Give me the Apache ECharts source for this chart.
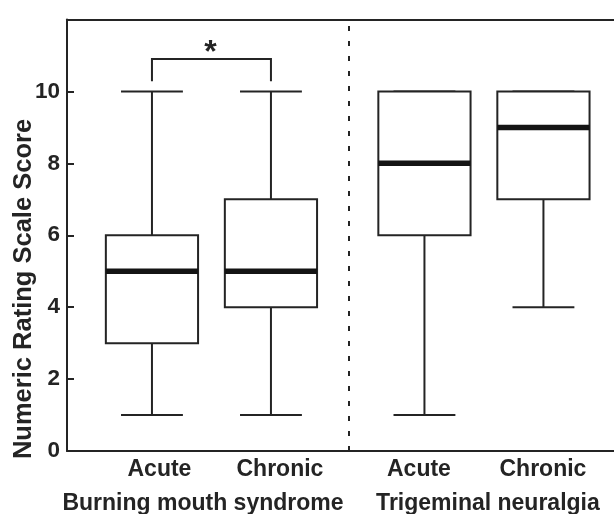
<!DOCTYPE html>
<html>
<head>
<meta charset="utf-8">
<script src="https://cdn.jsdelivr.net/npm/echarts@6/dist/echarts.min.js"></script>
<style>html,body{margin:0;padding:0;background:#fff}#c{width:614px;height:514px}</style>
</head>
<body>
<div id="c"></div>
<script>
// ---- data ----
const categories = ['Acute', 'Chronic', 'Acute', 'Chronic'];
const groups = ['Burning mouth syndrome', 'Trigeminal neuralgia'];
const groupOf = [0, 0, 1, 1];
const whiskerMin = [1, 1, 1, 4];
const q1 = [3, 4, 6, 7];
const median = [5, 5, 8, 9];
const q3 = [6, 7, 10, 10];
const whiskerMax = [10, 10, 10, 10];
const sigPair = [0, 1];
const sigMark = '*';
const yTicks = [0, 2, 4, 6, 8, 10];

// ---- layout / style ----
const GROUP_STEP = 2.29;       // x distance between groups (in item units)
const BOX_W = 0.775, CAP_W = 0.52;
const INK = '#242424';
const FONT = '"Liberation Sans", Arial, sans-serif';
const catLabelShift = [7.5, 9, -5.5, -0.5];
const groupLabelShift = [-8.5, 4];
const SIG_LOW = 0.28, SIG_HIGH = 0.9;

const xPos = categories.map((c, i) => groupOf[i] * GROUP_STEP + (i - groupOf.indexOf(groupOf[i])));
const sepX = (xPos[1] + xPos[2]) / 2;

const boxData = categories.map((c, i) => [xPos[i], whiskerMin[i], q1[i], median[i], q3[i], whiskerMax[i]]);

function renderBox(params, api) {
  const x = api.value(0);
  const lo = api.coord([x, api.value(1)]);
  const b1 = api.coord([x, api.value(2)]);
  const md = api.coord([x, api.value(3)]);
  const b3 = api.coord([x, api.value(4)]);
  const hi = api.coord([x, api.value(5)]);
  const bw = api.size([BOX_W, 0])[0];
  const cw = api.size([CAP_W, 0])[0];
  const cx = lo[0];
  const ls = {stroke: INK, lineWidth: 2};
  return {
    type: 'group',
    children: [
      {type: 'line', shape: {x1: cx, y1: lo[1], x2: cx, y2: b1[1]}, style: ls},
      {type: 'line', shape: {x1: cx, y1: b3[1], x2: cx, y2: hi[1]}, style: ls},
      {type: 'line', shape: {x1: cx - cw / 2, y1: lo[1], x2: cx + cw / 2, y2: lo[1]}, style: ls},
      {type: 'line', shape: {x1: cx - cw / 2, y1: hi[1], x2: cx + cw / 2, y2: hi[1]}, style: ls},
      {type: 'rect', shape: {x: cx - bw / 2, y: b3[1], width: bw, height: b1[1] - b3[1]},
        style: {fill: '#fff', stroke: INK, lineWidth: 2}},
      {type: 'line', shape: {x1: cx - bw / 2, y1: md[1], x2: cx + bw / 2, y2: md[1]},
        style: {stroke: '#141414', lineWidth: 5.5}}
    ]
  };
}

function renderSig(params, api) {
  const a = sigPair[0], b = sigPair[1];
  const top = Math.max(whiskerMax[a], whiskerMax[b]);
  const pA0 = api.coord([xPos[a], top + SIG_LOW]);
  const pA1 = api.coord([xPos[a], top + SIG_HIGH]);
  const pB1 = api.coord([xPos[b], top + SIG_HIGH]);
  const pB0 = api.coord([xPos[b], top + SIG_LOW]);
  return {
    type: 'group',
    children: [
      {type: 'polyline', shape: {points: [pA0, pA1, pB1, pB0]}, style: {stroke: INK, lineWidth: 2, fill: null}},
      {type: 'text', x: (pA1[0] + pB1[0]) / 2 - 1, y: pA1[1] + 10,
        style: {text: sigMark, fill: INK, font: 'bold 32px ' + FONT, align: 'center', verticalAlign: 'bottom'}}
    ]
  };
}

function renderLabels(params, api) {
  const children = [];
  categories.forEach((c, i) => {
    const p = api.coord([xPos[i], 0]);
    children.push({type: 'text', x: p[0] + catLabelShift[i], y: p[1] + 18.5,
      style: {text: c, fill: INK, font: 'bold 23px ' + FONT, align: 'center', verticalAlign: 'middle'}});
  });
  groups.forEach((g, gi) => {
    const idx = groupOf.map((v, i) => v === gi ? i : -1).filter(i => i >= 0);
    const mid = (xPos[idx[0]] + xPos[idx[idx.length - 1]]) / 2;
    const p = api.coord([mid, 0]);
    children.push({type: 'text', x: p[0] + groupLabelShift[gi], y: p[1] + 53,
      style: {text: g, fill: INK, font: 'bold 23px ' + FONT, align: 'center', verticalAlign: 'middle'}});
  });
  return {type: 'group', children};
}

const X_MIN = -0.714, X_MAX = 3.883;
const chart = echarts.init(document.getElementById('c'), null, {renderer: 'canvas'});
chart.setOption({
  animation: false,
  backgroundColor: '#fff',
  grid: {left: 67, top: 19.5, right: 0, height: 431.5, show: false, containLabel: false},
  xAxis: [{
    type: 'value', min: X_MIN, max: X_MAX,
    axisLine: {show: true, onZero: false, lineStyle: {color: INK, width: 2}},
    axisTick: {show: false}, axisLabel: {show: false}, splitLine: {show: false}
  }, {
    type: 'value', position: 'top', min: X_MIN, max: X_MAX,
    axisLine: {show: true, onZero: false, lineStyle: {color: INK, width: 2}},
    axisTick: {show: false}, axisLabel: {show: false}, splitLine: {show: false}
  }],
  yAxis: {
    type: 'value', min: 0, max: 12, interval: 2,
    axisLine: {show: true, onZero: false, lineStyle: {color: INK, width: 2}},
    axisTick: {show: true, inside: true, length: 7, lineStyle: {color: INK, width: 2}},
    axisLabel: {
      color: INK, fontFamily: FONT, fontWeight: 'bold', fontSize: 22.5, margin: 7,
      formatter: v => yTicks.indexOf(v) >= 0 ? String(v) : ''
    },
    splitLine: {show: false}
  },
  graphic: [{
    type: 'text', x: 24, y: 289, rotation: Math.PI / 2,
    style: {text: 'Numeric Rating Scale Score', fill: INK, font: 'bold 25.5px ' + FONT, align: 'center', verticalAlign: 'middle'}
  }],
  series: [
    {
      type: 'custom', name: 'boxes', renderItem: renderBox, data: boxData,
      encode: {x: 0, y: [1, 2, 3, 4, 5]}, clip: false, silent: true,
      markLine: {
        silent: true, symbol: ['none', 'none'], label: {show: false},
        lineStyle: {type: [5, 10], width: 2, color: INK},
        data: [{xAxis: sepX}]
      }
    },
    {type: 'custom', name: 'sig', renderItem: renderSig, data: [[0, 0]], clip: false, silent: true},
    {type: 'custom', name: 'labels', renderItem: renderLabels, data: [[0, 0]], clip: false, silent: true}
  ]
});
</script>
</body>
</html>
